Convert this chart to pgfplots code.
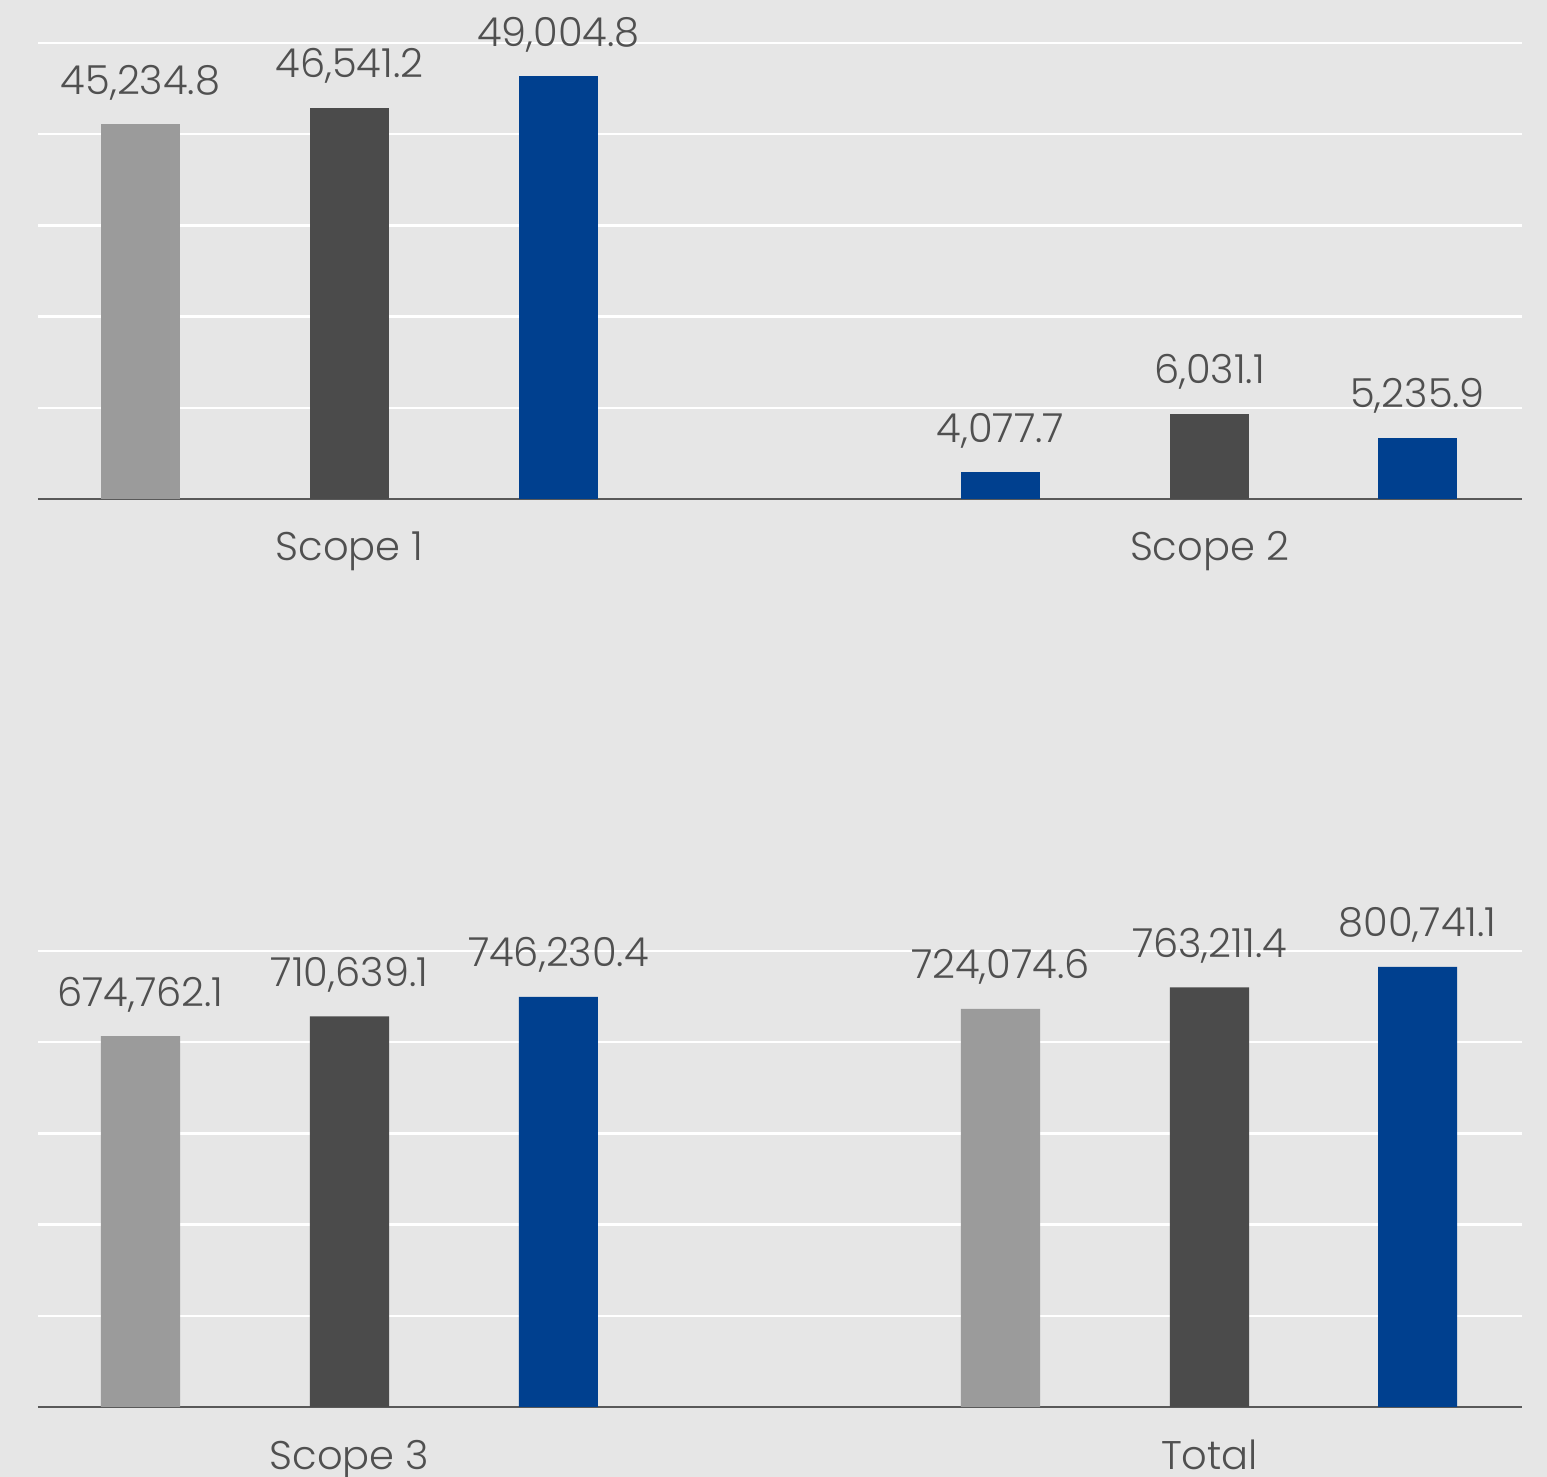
\documentclass[border=0pt]{standalone}
\usepackage{pgfplots}
\pgfplotsset{compat=1.18}
\usepackage{fontspec}
\setmainfont{Poppins}[UprightFont={* Light}]
\definecolor{bg}{HTML}{E6E6E6}
\definecolor{cl}{HTML}{9B9B9B}
\definecolor{cd}{HTML}{4B4B4B}
\definecolor{cb}{HTML}{00408F}
\definecolor{txt}{HTML}{505050}
\definecolor{axc}{HTML}{595959}
\pgfplotsset{
  base/.style={
    scale only axis, width=742pt, height=228pt,
    xmin=-0.3622, xmax=1.3634,
    anchor=south west, scaled y ticks=false,
  },
  gridded/.style={
    ymajorgrids, grid style={white, line width=1.25pt},
    yticklabels={}, axis line style={draw=none}, major tick length=0pt,
    extra y tick style={grid style={axc, line width=1.25pt}},
    extra y tick labels={},
    xtick={0,1},
    xticklabel style={font=\fontsize{20}{24}\selectfont, text=txt, anchor=base, yshift=-31pt},
  },
  lbl/.style={
    nodes near coords={\pgfmathprintnumber[fixed,fixed zerofill,precision=1,1000 sep={,},assume math mode=true]{\pgfplotspointmeta}},
    every node near coord/.append style={font=\fontsize{20}{24}\selectfont, text=txt, anchor=base, yshift=15pt, inner sep=0pt},
  },
  bstyle/.style={ybar, bar width=0.0919, bar shift=0pt, draw=none, fill=#1, lbl},
}
\begin{document}
\begin{tikzpicture}
\path[use as bounding box] (0,0) rectangle (773.5pt,738.5pt);
\fill[bg] (0,0) rectangle (773.5pt,738.5pt);
% top panel: Scope 1 (own scale)
\begin{axis}[base, gridded, at={(19pt,489pt)},
  ymin=15881, ymax=51600,
  ytick={23024.8,30168.6,37312.4,44456.2,51600},
  extra y ticks={15881},
  xticklabels={Scope 1, Scope 2}]
\addplot[bstyle=cl] coordinates {(-0.243,45234.8)};
\addplot[bstyle=cd] coordinates {(0,46541.2)};
\addplot[bstyle=cb] coordinates {(0.243,49004.8)};
\end{axis}
% top panel: Scope 2 (own scale)
\begin{axis}[base, hide axis, at={(19pt,489pt)},
  ymin=3186, ymax=18439]
\addplot[bstyle=cb] coordinates {(0.757,4077.7)};
\addplot[bstyle=cd] coordinates {(1,6031.1)};
\addplot[bstyle=cb] coordinates {(1.2419,5235.9)};
\end{axis}
% bottom panel
\begin{axis}[base, gridded, at={(19pt,35pt)},
  ymin=0, ymax=829500,
  ytick={165900,331800,497700,663600,829500},
  extra y ticks={0},
  xticklabels={Scope 3, Total}]
\addplot[bstyle=cl] coordinates {(-0.243,674762.1) (0.757,724074.6)};
\addplot[bstyle=cd] coordinates {(0,710639.1) (1,763211.4)};
\addplot[bstyle=cb] coordinates {(0.243,746230.4) (1.2419,800741.1)};
\end{axis}
\end{tikzpicture}
\end{document}
